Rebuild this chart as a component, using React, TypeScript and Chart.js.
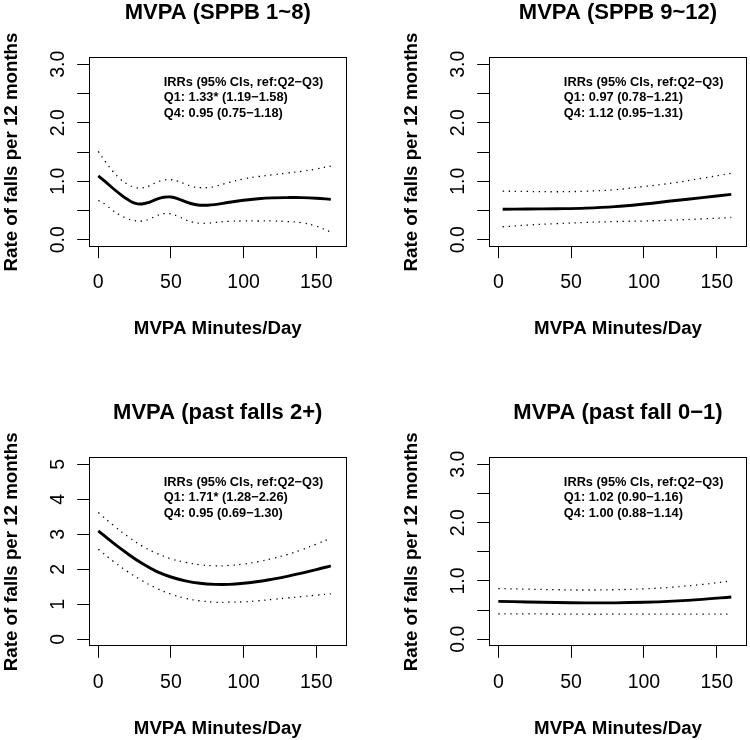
import React, { useEffect, useRef } from "react";
import { Chart, registerables } from "chart.js";

Chart.register(...registerables);

const FONT = '"Liberation Sans", Arial, Helvetica, sans-serif';

// ---- text ----
const panelTitles = ["MVPA (SPPB 1~8)", "MVPA (SPPB 9~12)", "MVPA (past falls 2+)", "MVPA (past fall 0\u22121)"];
const xAxisTitle = "MVPA Minutes/Day";
const yAxisTitle = "Rate of falls per 12 months";
const irrHeader = "IRRs (95% CIs, ref:Q2\u2212Q3)";
const q1Lines = ["Q1: 1.33* (1.19\u22121.58)", "Q1: 0.97 (0.78\u22121.21)", "Q1: 1.71* (1.28\u22122.26)", "Q1: 1.02 (0.90\u22121.16)"];
const q4Lines = ["Q4: 0.95 (0.75\u22121.18)", "Q4: 1.12 (0.95\u22121.31)", "Q4: 0.95 (0.69\u22121.30)", "Q4: 1.00 (0.88\u22121.14)"];

// ---- tick labels ----
const xTickValues = [0, 50, 100, 150];
const xTickLabels = ["0", "50", "100", "150"];
const yTickValues3 = [0, 1, 2, 3];
const yTickLabels3 = ["0.0", "1.0", "2.0", "3.0"];
const yTickValues5 = [0, 1, 2, 3, 4, 5];
const yTickLabels5 = ["0", "1", "2", "3", "4", "5"];

// ---- panel 1: SPPB 1~8 ----
const p1Minutes = [0, 5, 10, 15, 20, 25, 30, 35, 40, 45, 50, 55, 60, 65, 70, 75, 80, 90, 100, 110, 120, 130, 140, 150, 160];
const p1Rate = [1.09, 0.99, 0.88, 0.78, 0.69, 0.625, 0.61, 0.64, 0.69, 0.725, 0.73, 0.7, 0.65, 0.61, 0.59, 0.59, 0.6, 0.64, 0.675, 0.7, 0.715, 0.72, 0.72, 0.71, 0.69];
const p1Upper = [1.51, 1.33, 1.17, 1.04, 0.95, 0.895, 0.885, 0.92, 0.98, 1.02, 1.025, 1.0, 0.95, 0.91, 0.89, 0.89, 0.91, 0.98, 1.04, 1.08, 1.11, 1.14, 1.17, 1.21, 1.26];
const p1Lower = [0.67, 0.6, 0.5, 0.42, 0.36, 0.325, 0.32, 0.35, 0.41, 0.445, 0.44, 0.4, 0.34, 0.3, 0.28, 0.28, 0.295, 0.315, 0.32, 0.32, 0.32, 0.31, 0.29, 0.23, 0.13];

// ---- panel 2: SPPB 9~12 ----
const p2Minutes = [3, 20, 40, 60, 80, 100, 120, 140, 160];
const p2Rate = [0.52, 0.525, 0.53, 0.54, 0.565, 0.61, 0.665, 0.72, 0.775];
const p2Upper = [0.83, 0.825, 0.82, 0.83, 0.855, 0.91, 0.97, 1.05, 1.135];
const p2Lower = [0.22, 0.25, 0.275, 0.295, 0.31, 0.32, 0.335, 0.355, 0.38];

// ---- panel 3: past falls 2+ ----
const p3Minutes = [0, 10, 20, 30, 40, 50, 60, 70, 80, 90, 100, 110, 120, 130, 140, 150, 160];
const p3Rate = [3.1, 2.76, 2.45, 2.17, 1.94, 1.78, 1.67, 1.6, 1.57, 1.57, 1.6, 1.65, 1.72, 1.8, 1.89, 1.99, 2.1];
const p3Upper = [3.62, 3.27, 2.95, 2.67, 2.46, 2.3, 2.2, 2.13, 2.1, 2.11, 2.15, 2.22, 2.31, 2.42, 2.56, 2.72, 2.89];
const p3Lower = [2.57, 2.24, 1.94, 1.68, 1.46, 1.29, 1.17, 1.1, 1.06, 1.06, 1.07, 1.1, 1.14, 1.18, 1.22, 1.26, 1.3];

// ---- panel 4: past fall 0-1 ----
const p4Minutes = [0, 20, 40, 60, 80, 100, 120, 140, 160];
const p4Rate = [0.65, 0.64, 0.63, 0.625, 0.625, 0.635, 0.655, 0.685, 0.725];
const p4Upper = [0.87, 0.86, 0.85, 0.845, 0.85, 0.865, 0.895, 0.94, 1.0];
const p4Lower = [0.435, 0.435, 0.433, 0.43, 0.43, 0.43, 0.43, 0.43, 0.43];

const W = 375;
const H = 370;

type Panel = {
  idx: number;
  left: number;
  top: number;
  box: { l: number; r: number; t: number; b: number };
  xs: number[];
  fit: number[];
  upper: number[];
  lower: number[];
  yTop: number;
  yStep: number;
  yVals: number[];
  yLabs: string[];
};

const panels: Panel[] = [
  { idx: 0, left: 0, top: 0, box: { l: 88.7, r: 346.8, t: 57.3, b: 246.7 }, xs: p1Minutes, fit: p1Rate, upper: p1Upper, lower: p1Lower, yTop: 3, yStep: 0.5, yVals: yTickValues3, yLabs: yTickLabels3 },
  { idx: 1, left: 375, top: 0, box: { l: 113.7, r: 372.3, t: 57.3, b: 246.7 }, xs: p2Minutes, fit: p2Rate, upper: p2Upper, lower: p2Lower, yTop: 3, yStep: 0.5, yVals: yTickValues3, yLabs: yTickLabels3 },
  { idx: 2, left: 0, top: 370, box: { l: 88.7, r: 346.8, t: 87.3, b: 276.3 }, xs: p3Minutes, fit: p3Rate, upper: p3Upper, lower: p3Lower, yTop: 5, yStep: 1, yVals: yTickValues5, yLabs: yTickLabels5 },
  { idx: 3, left: 375, top: 370, box: { l: 113.7, r: 372.3, t: 87.3, b: 276.3 }, xs: p4Minutes, fit: p4Rate, upper: p4Upper, lower: p4Lower, yTop: 3, yStep: 0.5, yVals: yTickValues3, yLabs: yTickLabels3 },
];

function capText(ctx: CanvasRenderingContext2D, text: string, x: number, yc: number, size: number, bold: boolean, align: CanvasTextAlign) {
  ctx.font = `${bold ? "bold " : ""}${size}px ${FONT}`;
  ctx.textAlign = align;
  ctx.textBaseline = "alphabetic";
  ctx.fillText(text, x, yc + 0.358 * size);
}

function rotText(ctx: CanvasRenderingContext2D, text: string, xc: number, yc: number, size: number, bold: boolean) {
  ctx.save();
  ctx.translate(xc, yc);
  ctx.rotate(-Math.PI / 2);
  ctx.font = `${bold ? "bold " : ""}${size}px ${FONT}`;
  ctx.textAlign = "center";
  ctx.textBaseline = "alphabetic";
  ctx.fillText(text, 0, 0.358 * size);
  ctx.restore();
}

function decorPlugin(p: Panel) {
  return {
    id: "decor" + p.idx,
    afterDraw(chart: any) {
      const ctx: CanvasRenderingContext2D = chart.ctx;
      const a = chart.chartArea;
      const xs = chart.scales.x;
      const ys = chart.scales.y;
      ctx.save();
      ctx.strokeStyle = "#000";
      ctx.lineWidth = 1;
      const l = Math.round(a.left) + 0.5;
      const t = Math.round(a.top) + 0.5;
      const r = Math.round(a.right) - 0.5;
      const b = Math.round(a.bottom) - 0.5;
      ctx.strokeRect(l, t, r - l, b - t);
      ctx.fillStyle = "#000";
      // title
      capText(ctx, panelTitles[p.idx], (a.left + a.right) / 2, a.top - 46, 22, true, "center");
      // x tick labels
      xTickValues.forEach((v, i) => {
        capText(ctx, xTickLabels[i], xs.getPixelForValue(v), a.bottom + 34.8, 19.5, false, "center");
      });
      // y tick labels
      p.yVals.forEach((v, i) => {
        rotText(ctx, p.yLabs[i], a.left - 31.2, ys.getPixelForValue(v), 19.5, false);
      });
      // axis titles
      capText(ctx, xAxisTitle, (a.left + a.right) / 2, a.bottom + 80.9, 18.7, true, "center");
      rotText(ctx, yAxisTitle, a.left - 78.7, (a.top + a.bottom) / 2, 18.7, true);
      // annotation
      const ax = xs.getPixelForValue(45);
      const lines = [irrHeader, q1Lines[p.idx], q4Lines[p.idx]];
      lines.forEach((s, i) => {
        capText(ctx, s, ax, a.top + 23.7 + i * 15.85, 12.8, true, "left");
      });
      ctx.restore();
    },
  };
}

function pts(xs: number[], ys: number[]) {
  return xs.map((x, i) => ({ x, y: ys[i] }));
}

function makeChart(canvas: HTMLCanvasElement, p: Panel) {
  const yRange = p.yTop;
  const axisGrid = { drawOnChartArea: false, drawTicks: true, tickLength: 11.5, color: "#000", lineWidth: 1 };
  const dotted = { borderColor: "#000", borderWidth: 1.3, borderDash: [1.3, 4.7], pointRadius: 0, fill: false, tension: 0.4 };
  return new Chart(canvas, {
    type: "line",
    data: {
      datasets: [
        { ...dotted, data: pts(p.xs, p.upper) },
        { ...dotted, data: pts(p.xs, p.lower) },
        { data: pts(p.xs, p.fit), borderColor: "#000", borderWidth: 2.9, pointRadius: 0, fill: false, tension: 0.4 },
      ],
    },
    options: {
      animation: false,
      responsive: false,
      events: [],
      layout: { padding: { left: 0, top: p.box.t, right: W - p.box.r, bottom: 0 } },
      plugins: { legend: { display: false }, title: { display: false }, tooltip: { enabled: false } },
      scales: {
        x: {
          type: "linear",
          min: -6.6,
          max: 171,
          ticks: { display: false, stepSize: 50, includeBounds: false },
          grid: axisGrid,
          border: { display: false },
          afterFit: (s: any) => {
            s.height = H - p.box.b;
          },
        },
        y: {
          type: "linear",
          min: -0.04 * yRange,
          max: p.yTop + 0.04 * yRange,
          ticks: { display: false, stepSize: p.yStep, includeBounds: false },
          grid: axisGrid,
          border: { display: false },
          afterFit: (s: any) => {
            s.width = p.box.l;
          },
        },
      },
    } as any,
    plugins: [decorPlugin(p)],
  });
}

function PanelCanvas({ p }: { p: Panel }) {
  const ref = useRef<HTMLCanvasElement | null>(null);
  useEffect(() => {
    if (!ref.current) return;
    const c = makeChart(ref.current, p);
    return () => c.destroy();
  }, [p]);
  return (
    <canvas
      ref={ref}
      width={W}
      height={H}
      style={{ position: "absolute", left: p.left, top: p.top, width: W, height: H, display: "block" }}
    />
  );
}

export default function App() {
  return (
    <div style={{ position: "absolute", left: 0, top: 0, width: 750, height: 740, background: "#fff" }}>
      {panels.map((p) => (
        <PanelCanvas key={p.idx} p={p} />
      ))}
    </div>
  );
}
